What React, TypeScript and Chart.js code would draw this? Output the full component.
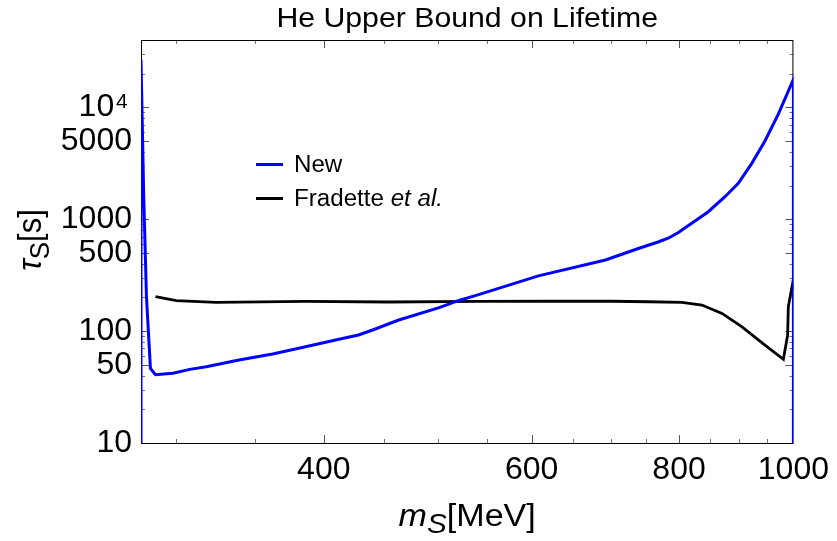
import { useEffect, useRef } from 'react';
import { Chart, registerables } from 'chart.js';

Chart.register(...registerables);

// ---------- data ----------
const TITLE = 'He Upper Bound on Lifetime';
const SERIES_NEW = 'New';
const SERIES_FRAD = 'Fradette';
const SERIES_FRAD_ITALIC = 'et al.';

const X_MIN = 280;
const X_MAX = 1000;
const Y_MIN = 10;
const Y_MAX = 40000;

// "New" bound (blue)
const newMass = [280, 280, 281.5, 283, 285.2, 288, 298, 308, 318, 339, 362, 386, 412, 428, 440, 463, 501, 520, 541, 608, 693, 740, 769, 784, 799, 820, 847, 875, 898, 922, 946, 971, 1000, 1000];
const newTau = [1, 26500, 1590, 203, 46.5, 40.8, 42, 45.5, 48.1, 55.2, 62.4, 72.5, 84.5, 92.3, 102.3, 125.7, 162, 187, 212, 312, 432, 550, 629, 680, 760, 920, 1167, 1589, 2094, 3160, 5000, 8700, 17790, 1];

// Fradette et al. bound (black)
const fradMass = [288, 300, 324, 386, 454, 541, 620, 700, 754, 804.5, 836.5, 870, 904, 946, 980.6, 988.8, 990.1, 997.9, 1000];
const fradTau = [203, 187, 181, 184.6, 182, 184.6, 185, 185, 183, 181, 171, 144, 109.5, 75, 56, 92, 165, 258, 236];

// ticks
const xTickValues = [400, 600, 800, 1000];
const xMinorValues = [300, 350, 450, 500, 550, 650, 700, 750, 850, 900, 950];
const yTickValues = [10, 50, 100, 500, 1000, 5000, 10000];
const yMinorValues = [20, 30, 40, 60, 70, 80, 90, 200, 300, 400, 600, 700, 800, 900, 2000, 3000, 4000, 6000, 7000, 8000, 9000, 20000, 30000];
const Y_POWER_TICK = 10000;
const Y_POWER_BASE = '10';
const Y_POWER_EXP = '4';

const FAMILY = "'Liberation Sans', Arial, Helvetica, sans-serif";
const f = (size: number, style = '') => `${style} ${size}px ${FAMILY}`.trim();

type Seg = { text: string; font: string; dy?: number };

function drawRich(
  ctx: CanvasRenderingContext2D,
  segs: Seg[],
  x: number,
  y: number,
  align: 'left' | 'center',
  sx = 1,
  sy = 1,
  rot = 0
) {
  ctx.save();
  ctx.translate(x, y);
  if (rot) ctx.rotate(rot);
  ctx.scale(sx, sy);
  let w = 0;
  for (const s of segs) {
    ctx.font = s.font;
    w += ctx.measureText(s.text).width;
  }
  let cx = align === 'center' ? -w / 2 : 0;
  ctx.textAlign = 'left';
  ctx.textBaseline = 'alphabetic';
  ctx.fillStyle = '#000';
  for (const s of segs) {
    ctx.font = s.font;
    ctx.fillText(s.text, cx, s.dy || 0);
    cx += ctx.measureText(s.text).width;
  }
  ctx.restore();
}

const decorPlugin = {
  id: 'decor',
  beforeDatasetsDraw(chart: any) {
    const { ctx, chartArea: a, scales } = chart;
    const xs = scales.x;
    const ys = scales.y;
    ctx.save();
    ctx.lineWidth = 1;
    const xTick = (v: number, len: number, color: string) => {
      const px = Math.round(xs.getPixelForValue(v)) + 0.5;
      if (px < a.left || px > a.right) return;
      ctx.strokeStyle = color;
      ctx.beginPath();
      ctx.moveTo(px, a.bottom);
      ctx.lineTo(px, a.bottom - len);
      ctx.moveTo(px, a.top);
      ctx.lineTo(px, a.top + len);
      ctx.stroke();
    };
    const yTick = (v: number, len: number, color: string) => {
      const py = Math.round(ys.getPixelForValue(v)) + 0.5;
      if (py < a.top - 1 || py > a.bottom + 1) return;
      ctx.strokeStyle = color;
      ctx.beginPath();
      ctx.moveTo(a.left, py);
      ctx.lineTo(a.left + len, py);
      ctx.moveTo(a.right, py);
      ctx.lineTo(a.right - len, py);
      ctx.stroke();
    };
    xMinorValues.forEach((v) => xTick(v, 4, '#777'));
    xTickValues.forEach((v) => xTick(v, 8, '#555'));
    yMinorValues.forEach((v) => yTick(v, 4, '#777'));
    yTickValues.forEach((v) => yTick(v, 8, '#555'));

    ctx.strokeStyle = '#000';
    ctx.lineWidth = 1;
    ctx.strokeRect(a.left + 0.5, a.top + 0.5, a.right - a.left - 1, a.bottom - a.top);
    ctx.restore();
  },
  afterDraw(chart: any) {
    const { ctx, chartArea: a, scales } = chart;
    ctx.save();
    // exponent of the 10^4 tick label
    const py = scales.y.getPixelForValue(Y_POWER_TICK);
    drawRich(ctx, [{ text: Y_POWER_EXP, font: f(21) }], a.left - 25, py + 1, 'left');

    // title
    drawRich(ctx, [{ text: TITLE, font: f(28) }], (a.left + a.right) / 2, 27, 'center', 1.08);

    // legend
    const lx0 = 256;
    const lx1 = 283;
    ctx.lineWidth = 3;
    ctx.strokeStyle = '#0000ff';
    ctx.beginPath();
    ctx.moveTo(lx0, 164.5);
    ctx.lineTo(lx1, 164.5);
    ctx.stroke();
    ctx.strokeStyle = '#000';
    ctx.beginPath();
    ctx.moveTo(lx0, 198.5);
    ctx.lineTo(lx1, 198.5);
    ctx.stroke();
    drawRich(ctx, [{ text: SERIES_NEW, font: f(23) }], 294, 172, 'left', 1.05);
    drawRich(
      ctx,
      [
        { text: SERIES_FRAD + ' ', font: f(23) },
        { text: SERIES_FRAD_ITALIC, font: f(23, 'italic') },
      ],
      294,
      205.5,
      'left',
      1.05
    );

    // x-axis title: m_S[MeV]
    drawRich(
      ctx,
      [
        { text: 'm', font: f(31, 'italic') },
        { text: 'S', font: f(27, 'italic'), dy: 7 },
        { text: '[MeV]', font: f(31) },
      ],
      (a.left + a.right) / 2,
      526,
      'center',
      1.1
    );

    // y-axis title: tau_S[s]
    drawRich(
      ctx,
      [
        { text: 'τ', font: f(31, 'italic') },
        { text: 'S', font: f(26), dy: 7 },
        { text: '[s]', font: f(31) },
      ],
      41,
      240,
      'center',
      1,
      1.08,
      -Math.PI / 2
    );
    ctx.restore();
  },
};

export default function App() {
  const ref = useRef<HTMLCanvasElement>(null);

  useEffect(() => {
    const canvas = ref.current;
    if (!canvas) return;
    const chart = new Chart(canvas, {
      type: 'line',
      data: {
        datasets: [
          {
            label: SERIES_NEW,
            data: newMass.map((x, i) => ({ x, y: newTau[i] })),
            borderColor: '#0000ff',
            backgroundColor: '#0000ff',
            borderWidth: 3,
            pointRadius: 0,
            tension: 0,
            fill: false,
          },
          {
            label: SERIES_FRAD + ' ' + SERIES_FRAD_ITALIC,
            data: fradMass.map((x, i) => ({ x, y: fradTau[i] })),
            borderColor: '#000000',
            backgroundColor: '#000000',
            borderWidth: 2.8,
            pointRadius: 0,
            tension: 0,
            fill: false,
          },
        ],
      },
      options: {
        responsive: false,
        animation: false,
        events: [],
        layout: { padding: { top: 40, right: 42, left: 0, bottom: 0 } },
        plugins: {
          legend: { display: false },
          title: { display: false },
          tooltip: { enabled: false },
        },
        scales: {
          x: {
            type: 'logarithmic',
            min: X_MIN,
            max: X_MAX,
            afterBuildTicks: (s: any) => {
              s.ticks = xTickValues.map((v) => ({ value: v }));
            },
            afterFit: (s: any) => {
              s.height = 98;
            },
            ticks: {
              callback: (v: any) => String(v),
              font: { size: 32, family: FAMILY },
              color: '#000',
              padding: 8,
              autoSkip: false,
              maxRotation: 0,
              minRotation: 0,
            },
            grid: { display: false, drawTicks: false },
            border: { display: false },
          },
          y: {
            type: 'logarithmic',
            min: Y_MIN,
            max: Y_MAX,
            afterBuildTicks: (s: any) => {
              s.ticks = yTickValues.map((v) => ({ value: v }));
            },
            afterFit: (s: any) => {
              s.width = 141;
            },
            ticks: {
              callback: (v: any) => (Number(v) === Y_POWER_TICK ? Y_POWER_BASE + '\u2007' : String(v)),
              font: { size: 32, family: FAMILY },
              color: '#000',
              padding: 9,
              autoSkip: false,
            },
            grid: { display: false, drawTicks: false },
            border: { display: false },
          },
        },
      } as any,
      plugins: [decorPlugin],
    });
    return () => chart.destroy();
  }, []);

  return (
    <div style={{ position: 'absolute', left: 0, top: 0, width: 837, height: 541, background: '#fff' }}>
      <canvas ref={ref} width={837} height={541} style={{ display: 'block' }} />
    </div>
  );
}
